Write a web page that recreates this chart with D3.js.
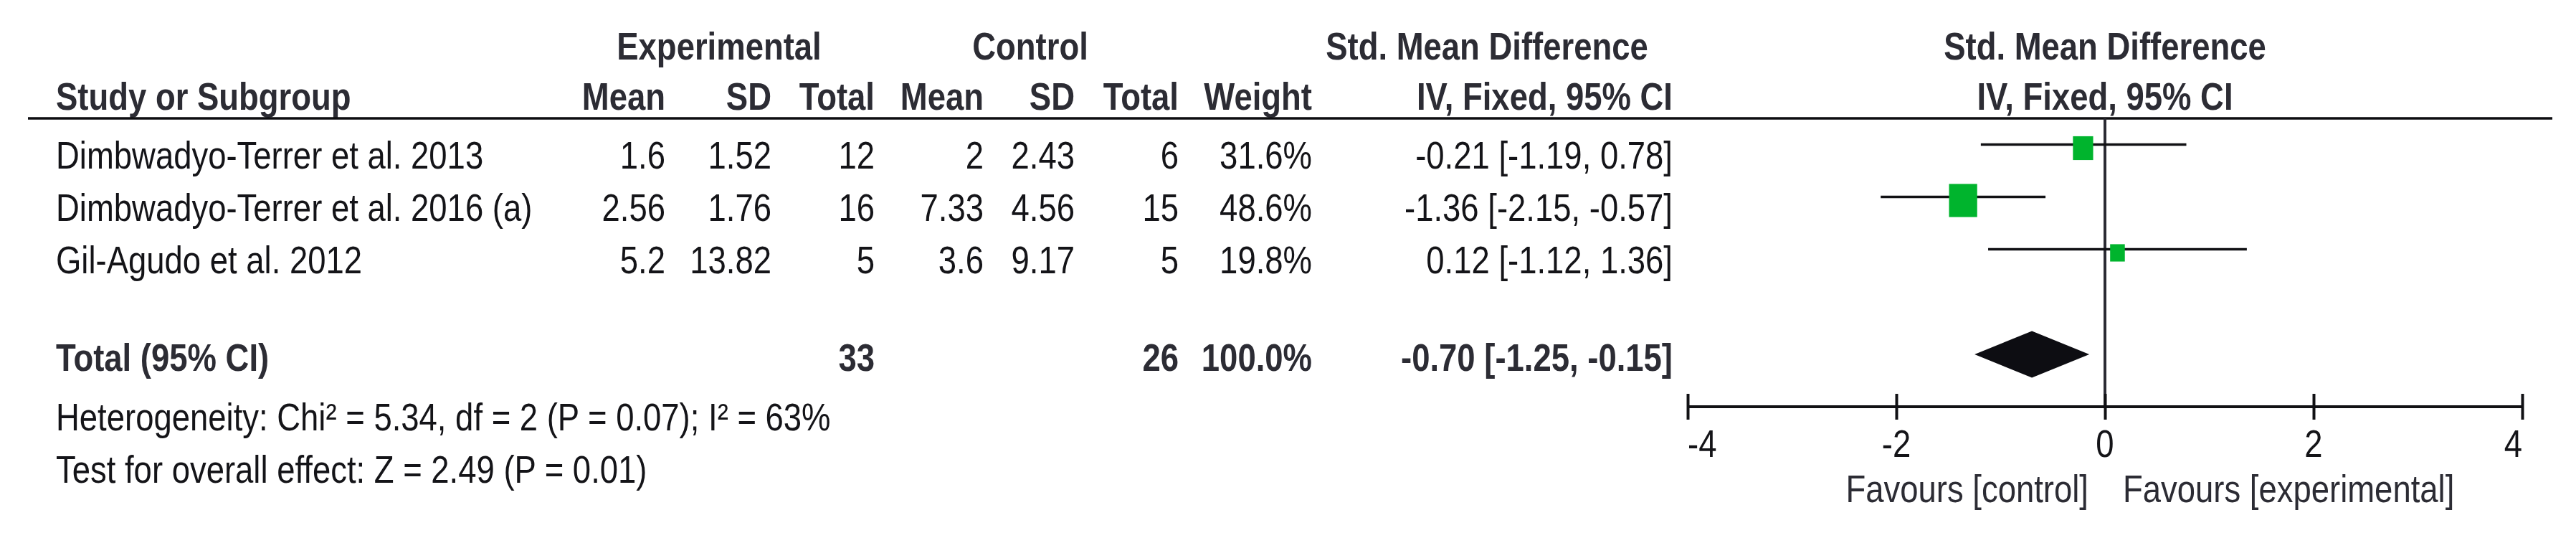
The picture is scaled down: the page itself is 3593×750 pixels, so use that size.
<!DOCTYPE html>
<html>
<head>
<meta charset="utf-8">
<script src="https://cdn.jsdelivr.net/npm/d3@7"></script>
<style>
  html, body { margin: 0; padding: 0; background: #ffffff; }
  svg { display: block; }
</style>
</head>
<body>
<div id="chart"></div>
<script>
// ---------------- DATA ----------------
const studies   = ["Dimbwadyo-Terrer et al. 2013", "Dimbwadyo-Terrer et al. 2016 (a)", "Gil-Agudo et al. 2012"];
const expMean   = [1.6, 2.56, 5.2];
const expSD     = [1.52, 1.76, 13.82];
const expTotal  = [12, 16, 5];
const ctrlMean  = [2, 7.33, 3.6];
const ctrlSD    = [2.43, 4.56, 9.17];
const ctrlTotal = [6, 15, 5];
const weights   = [31.6, 48.6, 19.8];
const smd       = [-0.21, -1.36, 0.12];
const ciLow     = [-1.19, -2.15, -1.12];
const ciHigh    = [0.78, -0.57, 1.36];

const totalLabel   = "Total (95% CI)";
const totalExpN    = 33;
const totalCtrlN   = 26;
const totalWeight  = 100.0;
const pooled       = [-0.70, -1.25, -0.15]; // estimate, low, high
const heterogeneityText = "Heterogeneity: Chi\u00B2 = 5.34, df = 2 (P = 0.07); I\u00B2 = 63%";
const overallText       = "Test for overall effect: Z = 2.49 (P = 0.01)";

const axisTicks   = [-4, -2, 0, 2, 4];
const axisDomain  = [-4, 4];
const favoursLeft  = "Favours [control]";
const favoursRight = "Favours [experimental]";

const headerGroups = ["Experimental", "Control", "Std. Mean Difference", "Std. Mean Difference"];
const headerCols   = ["Study or Subgroup", "Mean", "SD", "Total", "Mean", "SD", "Total", "Weight", "IV, Fixed, 95% CI", "IV, Fixed, 95% CI"];

// ---------------- LAYOUT ----------------
const W = 3593, H = 750;
const FONT = "'Liberation Sans', Arial, Helvetica, sans-serif";
const FS = 53.5;       // font size (height)
const SX = 0.85;       // horizontal squeeze of the original image
const DARK = "#141418", HEAD = "#2c2c34";

const svg = d3.select("#chart").append("svg")
  .attr("width", W).attr("height", H)
  .style("background", "#fff");

function txt(x, y, s, opts = {}) {
  svg.append("text")
    .attr("transform", `translate(${x},${y}) scale(${SX},1)`)
    .attr("text-anchor", opts.anchor || "start")
    .attr("font-family", FONT)
    .attr("font-size", FS)
    .attr("font-weight", opts.weight || "normal")
    .attr("fill", opts.fill || DARK)
    .text(s);
}

// x scale of forest plot
const x = d3.scaleLinear().domain(axisDomain).range([2354, 3518]);
// rows
const rowY = d3.scaleLinear().domain([0, 1]).range([235, 308]); // baselines
const sizeScale = d3.scaleLinear().domain([0, 100]).range([9, 85.5]);

const leftX = 78;
const colRight = [928, 1076, 1220, 1372, 1499, 1644, 1830, 2333];

// ---- headers ----
const h1 = 83, h2 = 153;
txt(1003, h1, headerGroups[0], {anchor: "middle", weight: "bold", fill: HEAD});
txt(1437, h1, headerGroups[1], {anchor: "middle", weight: "bold", fill: HEAD});
txt(2074, h1, headerGroups[2], {anchor: "middle", weight: "bold", fill: HEAD});
txt(x(0), h1, headerGroups[3], {anchor: "middle", weight: "bold", fill: HEAD});

txt(leftX, h2, headerCols[0], {weight: "bold", fill: HEAD});
for (let i = 1; i <= 8; i++) {
  txt(colRight[i - 1], h2, headerCols[i], {anchor: "end", weight: "bold", fill: HEAD});
}
txt(x(0), h2, headerCols[9], {anchor: "middle", weight: "bold", fill: HEAD});

// header rule
svg.append("line").attr("x1", 39).attr("x2", 3560).attr("y1", 165).attr("y2", 165)
  .attr("stroke", "#0d0d10").attr("stroke-width", 3.5);

// ---- study rows ----
const f2 = v => v.toFixed(2);
const ciText = (e, l, h) => `${f2(e)} [${f2(l)}, ${f2(h)}]`;

studies.forEach((s, i) => {
  const y = rowY(i);
  txt(leftX, y, s);
  const vals = [String(expMean[i]), String(expSD[i]), String(expTotal[i]),
                String(ctrlMean[i]), String(ctrlSD[i]), String(ctrlTotal[i]),
                weights[i].toFixed(1) + "%", ciText(smd[i], ciLow[i], ciHigh[i])];
  vals.forEach((v, j) => txt(colRight[j], y, v, {anchor: "end"}));
});

// zero line
svg.append("line").attr("x1", x(0)).attr("x2", x(0)).attr("y1", 165).attr("y2", 567)
  .attr("stroke", "#2b2b33").attr("stroke-width", 4);

// CI lines
svg.selectAll("line.ci").data(studies).enter().append("line")
  .attr("class", "ci")
  .attr("x1", (d, i) => x(ciLow[i])).attr("x2", (d, i) => x(ciHigh[i]))
  .attr("y1", (d, i) => rowY(i) - 33.5).attr("y2", (d, i) => rowY(i) - 33.5)
  .attr("stroke", "#111114").attr("stroke-width", 3.6);

// squares
svg.selectAll("rect.sq").data(studies).enter().append("rect")
  .attr("class", "sq")
  .attr("x", (d, i) => x(smd[i]) - sizeScale(weights[i]) * SX / 2)
  .attr("y", (d, i) => rowY(i) - 28.5 - sizeScale(weights[i]) / 2)
  .attr("width", (d, i) => sizeScale(weights[i]) * SX)
  .attr("height", (d, i) => sizeScale(weights[i]))
  .attr("fill", "#00b42d");

// ---- total row ----
const ty = 517;
txt(leftX, ty, totalLabel, {weight: "bold", fill: HEAD});
txt(colRight[2], ty, String(totalExpN), {anchor: "end", weight: "bold", fill: HEAD});
txt(colRight[5], ty, String(totalCtrlN), {anchor: "end", weight: "bold", fill: HEAD});
txt(colRight[6], ty, totalWeight.toFixed(1) + "%", {anchor: "end", weight: "bold", fill: HEAD});
txt(colRight[7], ty, ciText(pooled[0], pooled[1], pooled[2]), {anchor: "end", weight: "bold", fill: HEAD});

// diamond
const dy = 494, dh = 32.5;
svg.append("path")
  .attr("d", `M${x(pooled[1])},${dy} L${x(pooled[0])},${dy - dh} L${x(pooled[2])},${dy} L${x(pooled[0])},${dy + dh} Z`)
  .attr("fill", "#0d0d12");

// heterogeneity / overall effect
txt(leftX, 600, heterogeneityText);
txt(leftX, 673, overallText);

// ---- axis ----
const axisY = 567;
const axis = d3.axisBottom(x).tickValues(axisTicks).tickSize(0).tickFormat(() => "");
const ag = svg.append("g").attr("transform", `translate(0,${axisY})`).call(axis);
ag.select(".domain").attr("stroke", "#111114").attr("stroke-width", 4).attr("d", `M${x(axisDomain[0])},0H${x(axisDomain[1])}`);
ag.selectAll(".tick line").attr("y1", -18).attr("y2", 18).attr("stroke", "#111114").attr("stroke-width", 4);

axisTicks.forEach((t, i) => {
  let anchor = "middle";
  if (i === 0) anchor = "start";
  if (i === axisTicks.length - 1) anchor = "end";
  txt(x(t), 637, String(t), {anchor});
});

txt(x(0) - 23, 700, favoursLeft, {anchor: "end", fill: HEAD});
txt(x(0) + 25, 700, favoursRight, {anchor: "start", fill: HEAD});
</script>
</body>
</html>
